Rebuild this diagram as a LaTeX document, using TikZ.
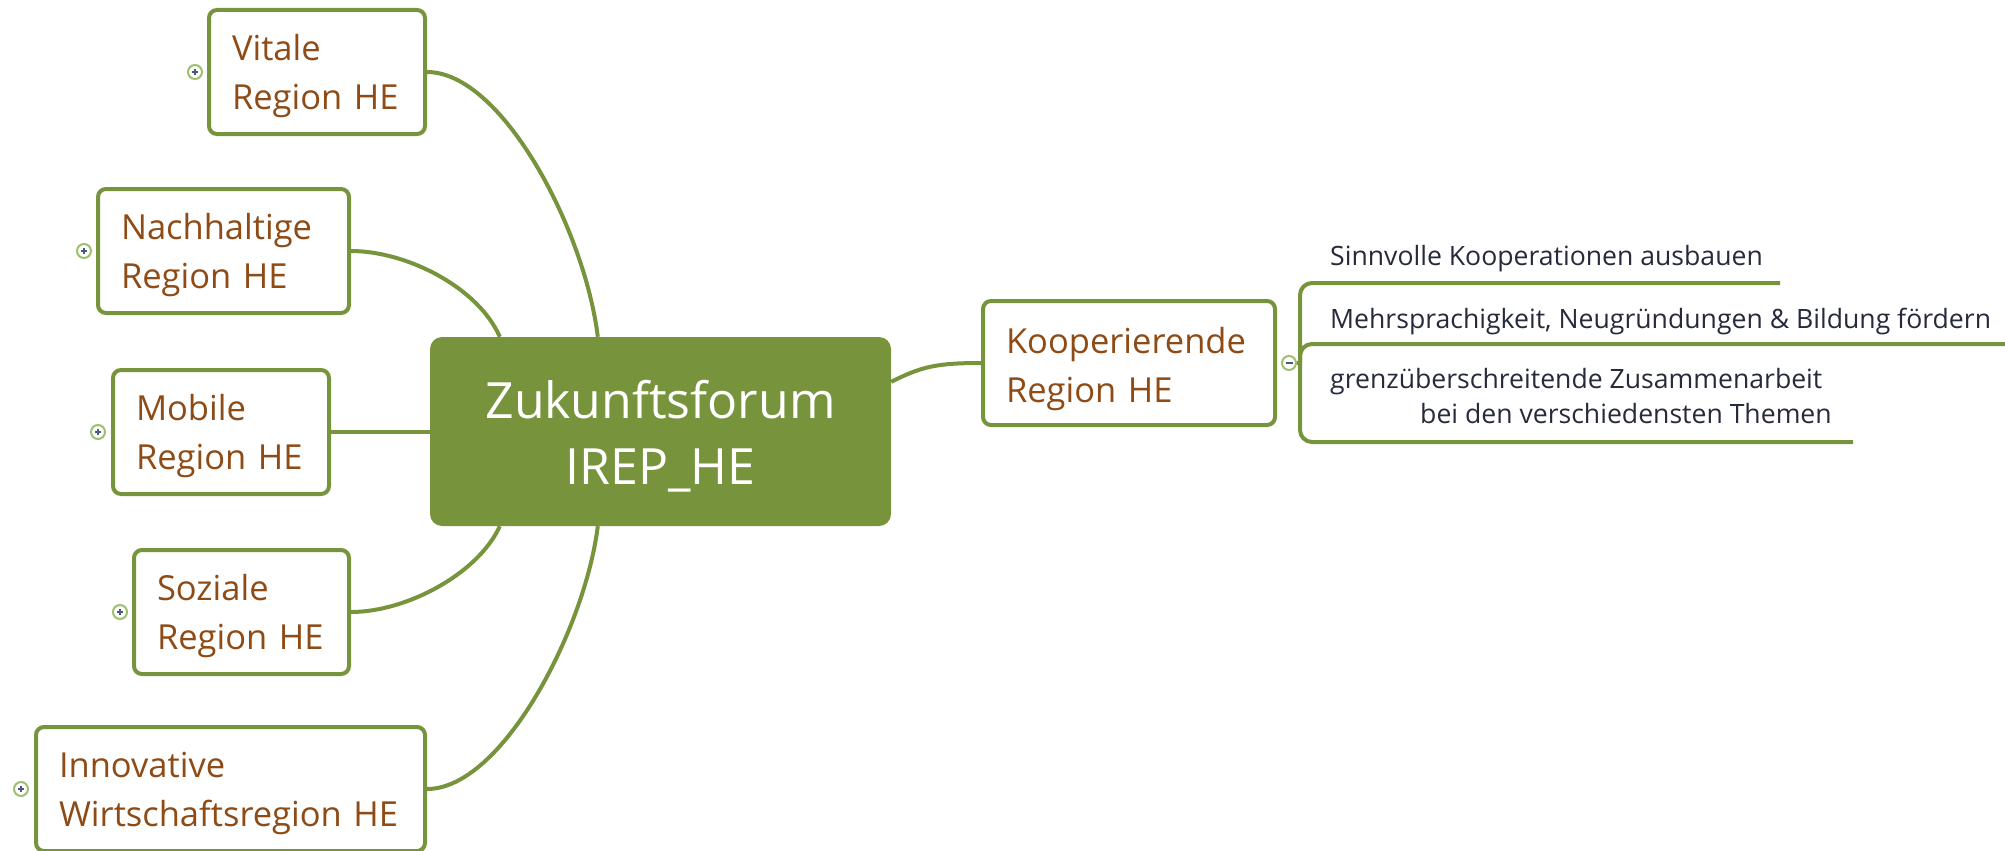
\documentclass[tikz,border=0pt]{standalone}
\usepackage{fontspec}
\setmainfont{Open Sans}
\usetikzlibrary{calc}
\definecolor{mmgreen}{HTML}{77933C}
\definecolor{mmbrown}{HTML}{8E4B16}
\definecolor{mmtext}{HTML}{262A3A}
\definecolor{iconring}{HTML}{9FBF6F}
\definecolor{iconmark}{HTML}{4A5A7A}
\newcommand{\topstrut}[1]{\rule{0pt}{#1}}
\tikzset{
  topic/.style={draw=mmgreen, line width=4pt, rounded corners=8pt, fill=white,
    text=mmbrown, align=left, inner xsep=23pt, minimum height=124pt,
    font=\fontsize{34.5}{48.5}\selectfont},
  central/.style={fill=mmgreen, rounded corners=12pt, text=white, align=center,
    minimum width=461pt, minimum height=189pt,
    font=\fontsize{50}{66}\selectfont},
  conn/.style={draw=mmgreen, line width=4pt},
  branchtext/.style={text=mmtext, align=left, inner sep=0pt, anchor=base west,
    font=\fontsize{26.6}{35}\selectfont},
  plusicon/.style={circle, draw=iconring, line width=2pt, fill=white,
    minimum size=14pt, inner sep=0pt,
    path picture={\draw[iconmark, line width=1.5pt]
      ([xshift=-3pt]path picture bounding box.center) -- ([xshift=3pt]path picture bounding box.center)
      ([yshift=-3pt]path picture bounding box.center) -- ([yshift=3pt]path picture bounding box.center);}},
  minusicon/.style={circle, draw=iconring, line width=2pt, fill=white,
    minimum size=14pt, inner sep=0pt,
    path picture={\draw[iconmark, line width=1.4pt]
      ([xshift=-3.5pt]path picture bounding box.center) -- ([xshift=3.5pt]path picture bounding box.center);}}
}
\begin{document}
\begin{tikzpicture}[x=1pt, y=-1pt]
\useasboundingbox (0,0) rectangle (2005,851);

% central topic
\node[central] (center) at (660.5,431.5) {\topstrut{48pt}Zukunftsforum\\IREP\_HE};

% main topics on the left
\node[topic, text width=170pt] (vit) at (317,72) {\topstrut{34pt}Vitale\\Region HE};
\node[topic, text width=205pt] (nach) at (223.5,251) {\topstrut{34pt}Nachhaltige\\Region HE};
\node[topic, text width=170pt] (mob) at (221,432) {\topstrut{34pt}Mobile\\Region HE};
\node[topic, text width=169pt] (soz) at (241.5,612) {\topstrut{34pt}Soziale\\Region HE};
\node[topic, text width=343pt] (inn) at (230.5,789) {\topstrut{34pt}Innovative\\Wirtschaftsregion HE};

% main topic on the right
\node[topic, text width=246pt] (koop) at (1129,363) {\topstrut{38pt}Kooperierende\\Region HE};

% expand / collapse icons
\node[plusicon] (ivit) at ([xshift=-12pt]vit.west) {};
\node[plusicon] (inach) at ([xshift=-12pt]nach.west) {};
\node[plusicon] (imob) at ([xshift=-13pt]mob.west) {};
\node[plusicon] (isoz) at ([xshift=-12pt]soz.west) {};
\node[plusicon] (iinn) at ([xshift=-13pt]inn.west) {};

% connectors from the central topic
\draw[conn] (vit.east) .. controls +(75,0) and +(-13,-107) .. ([xshift=168pt]center.north west);
\draw[conn] (nach.east) .. controls +(55,0) and +(-22,-50) .. ([xshift=70pt]center.north west);
\draw[conn] (mob.east) -- (mob.east -| center.west);
\draw[conn] (soz.east) .. controls +(55,0) and +(-22,48) .. ([xshift=70pt]center.south west);
\draw[conn] (inn.east) .. controls +(75,0) and +(-13,104) .. ([xshift=168pt]center.south west);
\draw[conn] ([yshift=-45pt]center.north east) .. controls +(30,-15) and +(-45,0) .. (koop.west);

% subtopics of Kooperierende Region HE
\node[minusicon] (ikoop) at ([xshift=12pt]koop.east) {};
\coordinate (fork) at (1300,363);
\coordinate (e1) at (1780,283);
\coordinate (e2) at (2008,344);
\coordinate (e3) at (1853,442);

\draw[conn] (ikoop.east) -- (fork);
\draw[conn, rounded corners=12pt] (fork) -- (fork |- e1) -- (e1);
\draw[conn, rounded corners=12pt] (fork) -- (fork |- e2) -- (e2);
\draw[conn, rounded corners=12pt] (fork) -- (fork |- e3) -- (e3);

\node[branchtext] (s1) at (1330,265) {Sinnvolle Kooperationen ausbauen};
\node[branchtext] (s2) at (1330,328) {Mehrsprachigkeit, Neugründungen \& Bildung fördern};
\node[branchtext] (s3) at (1330,423) {grenzüberschreitende Zusammenarbeit\\\hspace*{90pt}bei den verschiedensten Themen};
\end{tikzpicture}
\end{document}
